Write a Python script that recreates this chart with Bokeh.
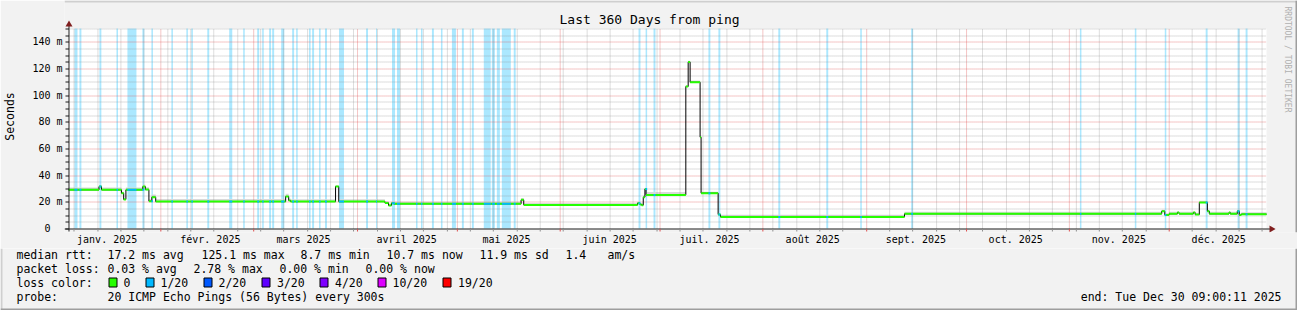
import numpy as np
import pandas as pd
from bokeh.plotting import figure
from bokeh.layouts import column
from bokeh.models import Range1d, FixedTicker, Label
from bokeh.core.properties import value
from bokeh.embed import file_html
from bokeh.resources import INLINE

# ---------------- data ----------------
end_time = "2025-12-30 09:00:11"
title_text = "Last 360 Days from ping"

median_time = ["2025-01-04 09:00", "2025-01-13 13:00", "2025-01-14 07:00", "2025-01-20 07:00",
               "2025-01-20 23:00", "2025-01-21 15:00", "2025-01-26 17:00", "2025-01-27 11:00",
               "2025-01-28 13:00", "2025-01-29 10:00", "2025-01-30 14:00", "2025-03-10 15:00",
               "2025-03-11 13:00", "2025-03-12 03:00", "2025-03-25 15:00", "2025-03-26 14:00",
               "2025-04-09 11:00", "2025-04-10 13:00", "2025-04-11 10:00", "2025-04-12 02:00",
               "2025-05-20 09:00", "2025-05-21 04:00", "2025-06-24 09:00", "2025-06-25 02:00",
               "2025-06-25 14:00", "2025-06-26 02:00", "2025-06-26 14:00", "2025-06-26 22:00",
               "2025-07-08 21:00", "2025-07-09 14:00", "2025-07-10 04:00", "2025-07-13 04:00",
               "2025-07-13 11:00", "2025-07-18 14:00", "2025-07-19 07:00", "2025-09-12 14:00",
               "2025-11-28 21:00", "2025-11-29 19:00", "2025-12-01 02:00", "2025-12-03 14:00",
               "2025-12-04 02:00", "2025-12-08 09:00", "2025-12-08 22:00", "2025-12-10 04:00",
               "2025-12-12 14:00", "2025-12-13 04:00", "2025-12-19 02:00", "2025-12-19 11:00",
               "2025-12-21 14:00", "2025-12-22 04:00", "2025-12-22 19:00"]
median_rtt_ms = [29.0, 31.5, 29.0, 26.5, 21.8, 29.0, 31.5, 29.2, 20.5, 23.5,
                 20.2, 24.0, 21.0, 20.2, 31.5, 20.2, 19.2, 17.3, 19.0, 18.5,
                 21.5, 17.7, 19.0, 18.0, 17.5, 23.5, 29.7, 25.2, 106.5, 124.8,
                 109.7, 68.5, 26.5, 10.5, 8.7, 11.0, 13.0, 10.2, 11.0, 12.0,
                 11.0, 12.0, 10.5, 19.5, 13.0, 11.0, 12.0, 11.0, 13.0, 10.2, 10.7]
smoke_top_ms = [30.8, 32.5, 30.8, 27.5, 22.8, 30.8, 33.0, 31.0, 22.0, 25.5,
                22.2, 26.0, 22.5, 22.0, 32.5, 22.0, 20.5, 18.8, 20.2, 20.0,
                22.8, 19.2, 20.0, 19.2, 19.0, 25.0, 30.5, 27.3, 107.5, 125.8,
                111.0, 69.5, 27.5, 11.5, 10.3, 12.5, 14.0, 11.5, 12.5, 13.2,
                12.5, 13.0, 11.8, 20.8, 14.0, 12.5, 13.0, 12.5, 14.0, 11.5, 12.2]

loss_start = ["2025-01-06 04:00", "2025-01-07 16:00", "2025-01-13 16:00", "2025-01-18 19:00",
              "2025-01-22 02:00", "2025-01-26 14:00", "2025-01-29 07:00", "2025-02-04 07:00",
              "2025-02-08 19:00", "2025-02-10 07:00", "2025-02-15 02:00", "2025-02-21 16:00",
              "2025-02-25 21:00", "2025-03-02 02:00", "2025-03-03 14:00", "2025-03-05 16:00",
              "2025-03-06 14:00", "2025-03-09 07:00", "2025-03-12 14:00", "2025-03-13 19:00",
              "2025-03-17 16:00", "2025-03-18 14:00", "2025-03-20 16:00", "2025-03-22 11:00",
              "2025-03-26 16:00", "2025-04-03 19:00", "2025-04-06 19:00", "2025-04-11 14:00",
              "2025-04-13 02:00", "2025-04-18 19:00", "2025-04-20 07:00", "2025-04-23 14:00",
              "2025-04-26 07:00", "2025-04-29 14:00", "2025-05-02 14:00", "2025-05-05 14:00",
              "2025-05-09 04:00", "2025-05-11 14:00", "2025-05-13 02:00", "2025-05-14 14:00",
              "2025-05-18 04:00", "2025-06-24 16:00", "2025-06-26 19:00", "2025-06-29 04:00",
              "2025-07-15 16:00", "2025-07-18 16:00", "2025-08-05 16:00", "2025-08-20 02:00",
              "2025-08-30 07:00", "2025-09-14 14:00", "2025-11-04 07:00", "2025-11-20 19:00",
              "2025-11-29 19:00", "2025-12-12 02:00", "2025-12-21 16:00", "2025-12-24 02:00"]
loss_hours = [22, 14, 14, 11, 65, 14, 11,
              11, 11, 11, 14, 22, 11,
              14, 11, 14, 14, 22, 14, 11, 11, 14, 11, 14, 36,
              14, 7, 22, 22, 11, 11, 14, 11, 29,
              14, 14, 50, 22, 22, 65, 14,
              14, 11, 14,
              14, 14,
              14, 14, 11,
              14,
              11, 11, 11,
              14, 14, 14]

month_labels = ["janv. 2025", "févr. 2025", "mars 2025", "avril 2025", "mai 2025", "juin 2025",
                "juil. 2025", "août 2025", "sept. 2025", "oct. 2025", "nov. 2025", "déc. 2025"]
y_ticks = [0, 20, 40, 60, 80, 100, 120, 140]
y_tick_labels = ["0\u00a0\u00a0", "20 m", "40 m", "60 m", "80 m", "100 m", "120 m", "140 m"]

rtt_texts = ["median rtt:", "17.2 ms avg", "125.1 ms max", "8.7 ms min", "10.7 ms now",
             "11.9 ms sd", "1.4", "am/s"]
pl_texts = ["packet loss:", "0.03 % avg", "2.78 % max", "0.00 % min", "0.00 % now"]
loss_names = ["0", "1/20", "2/20", "3/20", "4/20", "10/20", "19/20"]
loss_colors = ["#26ff00", "#00b8ff", "#0059ff", "#5e00ff", "#7e00ff", "#dd00ff", "#ff0000"]
probe_texts = ["probe:", "20 ICMP Echo Pings (56 Bytes) every 300s"]
end_text = "end: Tue Dec 30 09:00:11 2025"

# ---------------- layout constants (pixels) ----------------
W, H = 1297, 310
HA = 248                                   # height of graph part
FR_L, FR_B = 62, 232                       # frame left / bottom of graph part
X0_PX, Y0_PX = 66, 228                     # rrd graph origin
PX_PER_DAY = 1200 / 360
M_PER_PX = 0.75
MS_DAY = 86400000.0
FONT = "DejaVu Sans Mono"
BACK = "#f2f2f2"
SHADE_A, SHADE_B = "#cfcfcf", "#9e9e9e"

END = pd.Timestamp(end_time)
START = END - pd.Timedelta(days=360)


def ms(ts):
    return pd.Timestamp(ts).value / 1e6


start_ms, end_ms = ms(START), ms(END)


def X(px):
    return start_ms + (px - X0_PX) / PX_PER_DAY * MS_DAY


def Y(py):
    return (Y0_PX - py) * M_PER_PX


def snap_x(t):
    px = X0_PX + (np.asarray(t) - start_ms) / MS_DAY * PX_PER_DAY
    return X(np.round(px) + 0.5)


def snap_y(v):
    py = Y0_PX - np.asarray(v, dtype=float) / M_PER_PX
    return Y(np.round(py) + 0.5)


p = figure(width=W, height=HA, x_axis_type="datetime",
           x_range=Range1d(X(FR_L), X(W)), y_range=Range1d(Y(FR_B), Y(0)),
           output_backend="svg", toolbar_location=None, title=None,
           min_border_left=FR_L, min_border_right=0,
           min_border_top=0, min_border_bottom=HA - FR_B,
           background_fill_color=BACK, border_fill_color=BACK,
           outline_line_color=None)
p.frame_align = False
p.xgrid.grid_line_color = None
p.ygrid.grid_line_color = None

label_pos = [int(ms(pd.Timestamp(2025, m, 1) + pd.Timedelta(days=15))) for m in range(1, 13)]
xa = p.xaxis[0]
xa.ticker = FixedTicker(ticks=label_pos, minor_ticks=[])
xa.major_label_overrides = {t: l for t, l in zip(label_pos, month_labels)}
xa.axis_line_color = None
xa.major_tick_line_color = None
xa.minor_tick_line_color = None
xa.major_tick_out = 0
xa.major_tick_in = 0
xa.major_label_standoff = 1
xa.major_label_text_font = FONT
xa.major_label_text_font_size = "10px"
xa.major_label_text_color = "#000000"

ya = p.yaxis[0]
ya.ticker = FixedTicker(ticks=y_ticks, minor_ticks=[])
ya.major_label_overrides = {t: l for t, l in zip(y_ticks, y_tick_labels)}
ya.axis_line_color = None
ya.major_tick_line_color = None
ya.minor_tick_line_color = None
ya.major_tick_out = 0
ya.major_tick_in = 0
ya.major_label_standoff = 2
ya.major_label_text_font = FONT
ya.major_label_text_font_size = "10px"
ya.major_label_text_color = "#000000"
ya.axis_label = "Seconds"
ya.axis_label_text_font = FONT
ya.axis_label_text_font_size = "11.5px"
ya.axis_label_text_font_style = "normal"
ya.axis_label_text_color = "#000000"
ya.axis_label_standoff = 12

# canvas
p.quad(left=[start_ms], right=[end_ms], bottom=[0], top=[150], fill_color="white", line_color=None)

# loss bars
l_ms = np.array([ms(t) for t in loss_start])
r_ms = l_ms + np.array(loss_hours) * 3600000.0
p.quad(left=l_ms, right=r_ms, bottom=0, top=150, fill_color="#abe8ff", line_color=None)

# smoke
t_ms = np.array([ms(t) for t in median_time])
t_next = np.append(t_ms[1:], end_ms)
med = np.array(median_rtt_ms)
p.quad(left=t_ms, right=t_next, bottom=med, top=np.array(smoke_top_ms),
       fill_color="#d9d9d9", line_color=None)

# grid (snapped to pixel centres)
month_starts = pd.date_range("2025-02-01", "2025-12-01", freq="MS")
weeks = [w for w in pd.date_range("2025-01-06", END, freq="7D") if w not in set(month_starts)]
wk = snap_x([ms(w) for w in weeks])
mo = snap_x([ms(m) for m in month_starts])
GRID_C, GRID_A = "#8f8f8f", 0.6
MGRID_C, MGRID_A = "#de4f4f", 0.65
p.segment(x0=wk, y0=0, x1=wk, y1=150, line_color=GRID_C, line_alpha=GRID_A,
          line_dash="1 1", line_width=1)
p.segment(x0=mo, y0=0, x1=mo, y1=150, line_color=MGRID_C, line_alpha=MGRID_A,
          line_dash="1 1", line_width=1)
minor_y = snap_y([v for v in range(5, 155, 5) if v % 20 != 0])
major_y = snap_y([v for v in range(20, 150, 20)])
p.segment(x0=start_ms, y0=minor_y, x1=end_ms, y1=minor_y, line_color=GRID_C,
          line_alpha=GRID_A, line_dash="1 1", line_width=1)
p.segment(x0=start_ms, y0=major_y, x1=end_ms, y1=major_y, line_color=MGRID_C,
          line_alpha=MGRID_A, line_dash="1 1", line_width=1)

# median line
p.step(x=np.append(t_ms, end_ms), y=np.append(med, med[-1]), mode="after",
       line_color="#000000", line_width=1)
p.segment(x0=t_ms, y0=med, x1=t_next, y1=med, line_color="#26ff00", line_width=2)
idx = np.searchsorted(t_ms, l_ms, side="right") - 1
p.segment(x0=l_ms, y0=med[idx], x1=r_ms, y1=med[idx], line_color="#00b8ff", line_width=2)

# axes lines, ticks, arrows
AX = "#1f1f1f"
ax_y = Y(228.5)
ax_x = X(66.5)
p.segment(x0=[X(62)], y0=[ax_y], x1=[X(1270)], y1=[ax_y], line_color=AX, line_width=1)
p.segment(x0=[ax_x], y0=[Y(231)], x1=[ax_x], y1=[Y(22)], line_color=AX, line_width=1)
yt = snap_y(np.arange(0, 155, 5))
p.segment(x0=X(63), y0=yt, x1=ax_x, y1=yt, line_color=AX, line_width=1)
p.segment(x0=wk, y0=ax_y, x1=wk, y1=Y(231), line_color=GRID_C, line_width=1)
p.segment(x0=mo, y0=ax_y, x1=mo, y1=Y(231), line_color=MGRID_C, line_width=1)
p.scatter(x=[ax_x], y=[Y(24)], marker="triangle", size=7, color="#801f1f", line_color=None)
p.scatter(x=[X(1271)], y=[ax_y], marker="triangle", angle=-np.pi / 2, size=7,
          color="#801f1f", line_color=None)

# 3d border (graph part)
p.quad(left=[X(FR_L)], right=[X(W)], top=[Y(0)], bottom=[Y(2)], fill_color=SHADE_A, line_color=None)
p.quad(left=[X(W - 2)], right=[X(W)], top=[Y(0)], bottom=[Y(FR_B)], fill_color=SHADE_B, line_color=None)

p.add_layout(Label(x=X(648), y=Y(19), text=title_text, text_font=FONT, text_font_size="13px",
                   text_align="center", text_baseline="middle", text_color="#000000"))
p.add_layout(Label(x=X(1287), y=Y(59), text="RRDTOOL / TOBI OETIKER", text_font=FONT,
                   text_font_size="8px", text_align="center", text_baseline="middle",
                   angle=-np.pi / 2, text_color="#b0b0b0"))

# ---------------- legend part ----------------
q = figure(width=W, height=H - HA, x_range=Range1d(0, W), y_range=Range1d(H, HA),
           output_backend="svg", toolbar_location=None, title=None,
           x_axis_location=None, y_axis_location=None,
           min_border_left=0, min_border_right=0, min_border_top=0, min_border_bottom=0,
           background_fill_color=BACK, border_fill_color=BACK, outline_line_color=None)
q.frame_align = False
q.xgrid.grid_line_color = None
q.ygrid.grid_line_color = None

rows = [254, 268, 282, 296]
TS = value("11.5px")


def txt(texts, xs, y, align="left"):
    q.text(x=xs, y=[y] * len(texts), text=texts, text_font=value(FONT), text_font_size=TS,
           text_align=align, text_baseline="middle", text_color="#000000")


txt(rtt_texts, [16, 107, 201, 300, 386, 479, 565, 607], rows[0])
txt(pl_texts, [16, 107, 193, 279, 365], rows[1])
txt(["loss color:"], [16], rows[2])
sw_x = np.array([108, 145, 203, 261, 319, 377, 442]) + 0.5
q.quad(left=sw_x, right=sw_x + 8, top=277.5, bottom=286.5, fill_color=loss_colors,
       line_color="#000000", line_width=1)
txt(loss_names, [123, 160, 218, 276.5, 334.5, 392, 457.5], rows[2])
txt(probe_texts, [16, 107], rows[3])
txt([end_text], [1281], rows[3], align="right")

q.quad(left=[0], right=[2], top=[HA], bottom=[H], fill_color=SHADE_A, line_color=None)
q.quad(left=[0], right=[W], top=[H - 2], bottom=[H], fill_color=SHADE_B, line_color=None)
q.quad(left=[W - 2], right=[W], top=[HA], bottom=[H], fill_color=SHADE_B, line_color=None)

layout = column(p, q, spacing=0)
open("out.html", "w").write(file_html(layout, INLINE))
